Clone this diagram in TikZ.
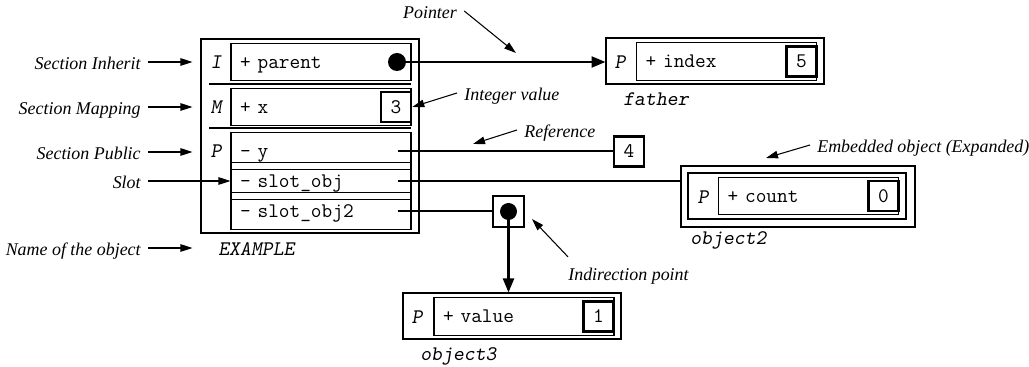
\documentclass[tikz,border=0pt]{standalone}
\usepackage{fontspec}
\setmainfont{Liberation Serif}
\usetikzlibrary{arrows.meta}
\usetikzlibrary{positioning}

\tikzset{
  objbox/.style={draw, line width=0.6pt, minimum width=4.36cm, minimum height=0.92cm},
  field/.style={draw, line width=0.6pt, minimum width=3.6cm, minimum height=0.6cm,
    text width=3.24cm, inner sep=0.18cm, align=left,
    text height=9pt, text depth=2pt, font=\fontsize{11.8}{12}\selectfont\ttfamily},
  value/.style={draw, line width=1.5pt, minimum size=0.6cm, inner sep=0pt,
    text height=9pt, text depth=2pt, font=\fontsize{11.8}{12}\selectfont\ttfamily},
  sect/.style={inner sep=0pt, font=\fontsize{11.8}{12}\selectfont\ttfamily\slshape},
  objname/.style={anchor=base west, inner sep=0pt, font=\fontsize{11.8}{12}\selectfont\ttfamily\slshape},
  note/.style={inner sep=0.14cm, text height=9pt, text depth=1pt,
    font=\fontsize{10.2}{12}\selectfont\itshape},
  notearrow/.style={line width=0.6pt, -{Triangle[length=0.24cm, width=0.15cm]}},
  link/.style={line width=1.3pt},
  linkarrow/.style={link, -{Triangle[length=0.28cm, width=0.22cm]}},
  dot/.style={circle, fill, inner sep=0pt, minimum size=0.36cm}
}

\begin{document}
\begin{tikzpicture}[x=0.02cm, y=-0.02cm]
  \useasboundingbox (0,0) rectangle (1029,367);

  % object EXAMPLE
  \node [objbox, minimum height=3.88cm] (example) at (310,136) {};
  \draw [line width=0.6pt] (209,84) -- (411,84);
  \draw [line width=0.6pt] (209,128) -- (411,128);
  \node [sect] (s-i) at (216,62) {I};
  \node [sect] (s-m) at (216,107) {M};
  \node [sect] (s-p) at (216,151) {P};
  \node [field] (f-parent) at (321,62) {+ parent};
  \node [field] (f-x) at (321,107) {+ x};
  \node [value] (v-x) at (396,107) {3};
  \node [field] (f-y) at (321,151) {- y};
  \node [field] (f-slot) at (321,181) {- slot\_obj};
  \node [field] (f-slot2) at (321,211) {- slot\_obj2};
  \node [objname] (n-example) at (218,256) {EXAMPLE};
  \node [dot] (ptr) at (397,62) {};

  % object father
  \node [objbox] (father) at (715,61) {};
  \node [sect] (s-father) at (620,62) {P};
  \node [field] (f-index) at (726.5,61.5) {+ index};
  \node [value] (v-index) at (801.5,61.5) {5};
  \node [objname] (n-father) at (623,106) {father};

  % integer and embedded object
  \node [value] (v-y) at (629,151.5) {4};
  \node [draw, line width=1.5pt, minimum width=4.68cm, minimum height=1.22cm] (obj2-out) at (798,196.5) {};
  \node [objbox] (obj2) at (797,196) {};
  \node [sect] (s-obj2) at (703,197) {P};
  \node [field] (f-count) at (808.5,196) {+ count};
  \node [value] (v-count) at (883.5,196) {0};
  \node [objname] (n-obj2) at (690,245) {object2};

  % indirection and object3
  \node [value, minimum size=0.62cm] (ind) at (508.5,211.5) {};
  \node [dot, minimum size=0.34cm] (ind-dot) at (ind.center) {};
  \node [objbox] (obj3) at (512,316) {};
  \node [sect] (s-obj3) at (417,317) {P};
  \node [field] (f-value) at (524,316.5) {+ value};
  \node [value] (v-value) at (598.5,316.5) {1};
  \node [objname] (n-obj3) at (420,361) {object3};

  % links
  \coordinate (c-y) at ([xshift=-0.28cm]f-y.east);
  \coordinate (c-slot) at ([xshift=-0.28cm]f-slot.east);
  \coordinate (c-slot2) at ([xshift=-0.28cm]f-slot2.east);
  \draw [linkarrow] (ptr.center) -- (ptr.center -| father.west);
  \draw [link] (c-y) -- (c-y -| v-y.west);
  \draw [link] (c-slot) -- (c-slot -| obj2-out.west);
  \draw [link] (c-slot2) -- (c-slot2 -| ind.west);
  \draw [linkarrow] (ind-dot.center) -- (ind-dot.center |- obj3.north);

  % notes on the left
  \node [note, anchor=east] (l-inherit) at (148,62) {Section Inherit};
  \node [note, anchor=east] (l-mapping) at (148,107) {Section Mapping};
  \node [note, anchor=east] (l-public) at (148,152) {Section Public};
  \node [note, anchor=east] (l-slot) at (148,181) {Slot};
  \node [note, anchor=east] (l-name) at (148,248) {Name of the object};
  \draw [notearrow, shorten >=0.16cm] (l-inherit.east) -- (l-inherit.east -| example.west);
  \draw [notearrow, shorten >=0.16cm] (l-mapping.east) -- (l-mapping.east -| example.west);
  \draw [notearrow, shorten >=0.16cm] (l-public.east) -- (l-public.east -| example.west);
  \draw [notearrow] (l-slot.east) -- (l-slot.east -| f-slot.west);
  \draw [notearrow, shorten >=0.16cm] (l-name.east) -- (l-name.east -| example.west);

  % other notes
  \node [note] (l-pointer) at (430,11) {Pointer};
  \coordinate (p-pointer) at (516,53);
  \draw [notearrow] (l-pointer.east) -- (p-pointer);
  \node [note, anchor=west] (l-int) at (457,93) {Integer value};
  \draw [notearrow] (l-int.west) -- (v-x.east);
  \node [note, anchor=west] (l-ref) at (517,130) {Reference};
  \coordinate (p-ref) at (473,144);
  \draw [notearrow] (l-ref.west) -- (p-ref);
  \node [note, anchor=west] (l-emb) at (810,145) {Embedded object (Expanded)};
  \coordinate (p-emb) at (766,158);
  \draw [notearrow] (l-emb.west) -- (p-emb);
  \node [note, anchor=west] (l-ind) at (561,273) {Indirection point};
  \coordinate (p-ind) at (532,219);
  \draw [notearrow] ([xshift=0.14cm]l-ind.north west) -- (p-ind);
\end{tikzpicture}
\end{document}
